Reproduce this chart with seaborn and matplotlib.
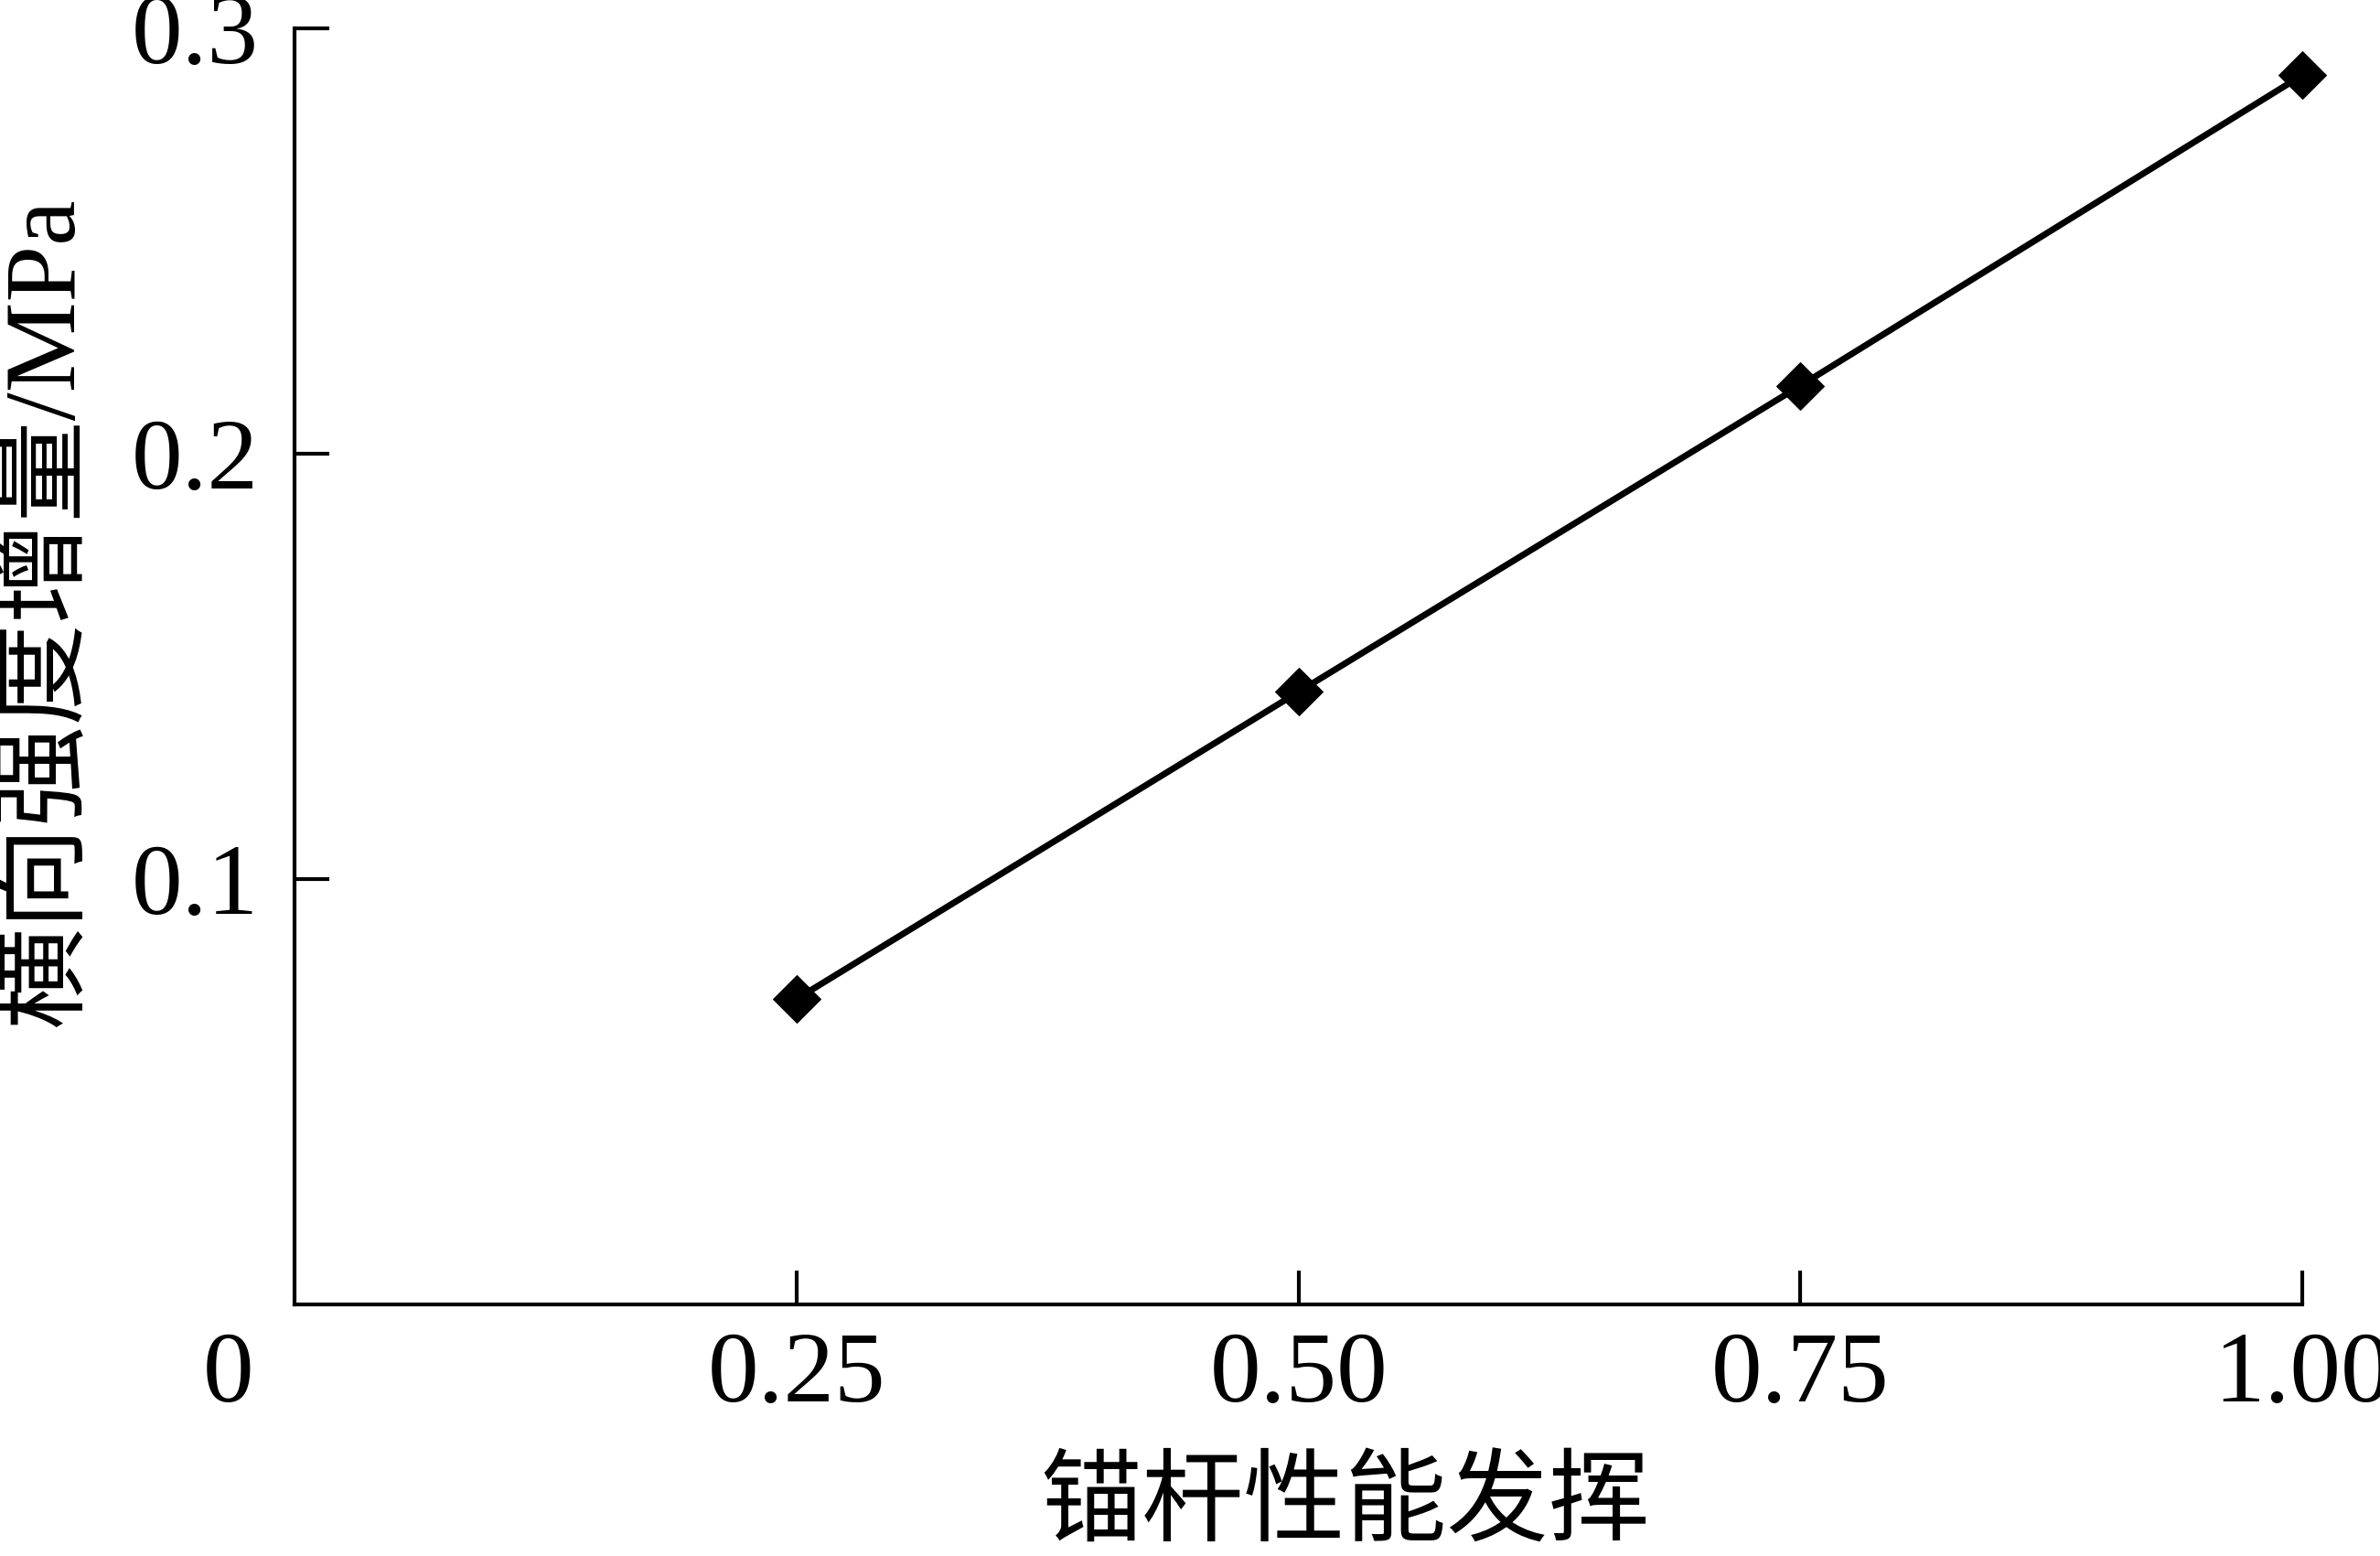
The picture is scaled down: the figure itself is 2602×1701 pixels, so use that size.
import matplotlib
matplotlib.use("Agg")
import matplotlib.pyplot as plt
import pandas as pd
import seaborn as sns

# 数据：锚杆性能发挥 vs 横向强度增量
bolt_performance = [0.25, 0.50, 0.75, 1.00]
strength_increase = [0.0718, 0.1440, 0.2160, 0.2890]
x_ticks = [0.25, 0.50, 0.75, 1.00]
x_tick_labels = ["0.25", "0.50", "0.75", "1.00"]
y_ticks = [0.1, 0.2, 0.3]
y_tick_labels = ["0.1", "0.2", "0.3"]

sns.set_style("ticks")
plt.rcParams["font.family"] = ["Liberation Serif", "Noto Sans CJK SC"]
plt.rcParams["text.color"] = "black"
plt.rcParams["axes.labelcolor"] = "black"

df = pd.DataFrame({"x": bolt_performance, "y": strength_increase})

fig = plt.figure(figsize=(26.02, 17.01), dpi=100)
ax = fig.add_axes([0.1238, 0.1617, 0.8436, 0.8201])

sns.lineplot(data=df, x="x", y="y", ax=ax, color="black", linewidth=5,
             marker="D", markersize=26, markeredgecolor="black",
             markerfacecolor="black", clip_on=False)

ax.set_xlim(0, 1.0)
ax.set_ylim(0, 0.3)
ax.set_xticks(x_ticks)
ax.set_xticklabels(x_tick_labels)
ax.set_yticks(y_ticks)
ax.set_yticklabels(y_tick_labels)

sns.despine(ax=ax)
for side in ["left", "bottom"]:
    ax.spines[side].set_linewidth(3)
    ax.spines[side].set_color("black")

ax.tick_params(axis="both", direction="in", length=27, width=3,
               labelsize=80, colors="black")
ax.tick_params(axis="x", pad=21)
ax.tick_params(axis="y", pad=28)

# 原点处的 "0"
ax.annotate("0", xy=(0, 0), xycoords="data", xytext=(-52, -21),
            textcoords="offset points", ha="center", va="top", fontsize=80)

ax.set_xlabel("锚杆性能发挥", fontsize=80)
ax.set_ylabel("横向强度增量/MPa", fontsize=80)
ax.xaxis.set_label_coords(0.523, -0.122)
ax.yaxis.set_label_coords(-0.10, 0.543)

fig.savefig("out.png", dpi=100, facecolor="white")
